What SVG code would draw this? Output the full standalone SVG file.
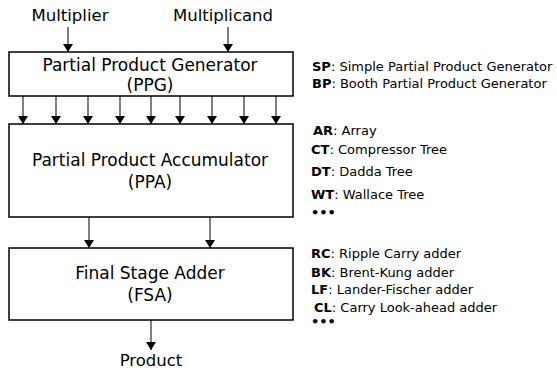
<svg xmlns="http://www.w3.org/2000/svg" width="557" height="372" viewBox="0 0 557 372">
<style>
text{font-family:"DejaVu Sans",sans-serif;fill:#000}
.big{font-size:17px;text-anchor:middle}
.io{font-size:16.5px;text-anchor:middle}
.leg{font-size:13px}
.leg tspan.b{font-weight:bold}
.box{fill:#fff;stroke:#000;stroke-width:1.5}
.c{stroke:#000;stroke-width:1;fill:none;marker-end:url(#ah)}
</style>
<defs>
<marker id="ah" markerWidth="8" markerHeight="10" refX="8" refY="5" orient="auto" markerUnits="userSpaceOnUse">
<path d="M0,0 L8,5 L0,10 Z" fill="#000"/>
</marker>
</defs>
<rect width="557" height="372" fill="#fff"/>
<g id="connectors">
<line class="c" x1="68" y1="27" x2="68" y2="52"/>
<line class="c" x1="228" y1="27" x2="228" y2="52"/>
<line class="c" x1="23" y1="96" x2="23" y2="124"/>
<line class="c" x1="56" y1="96" x2="56" y2="124"/>
<line class="c" x1="88" y1="96" x2="88" y2="124"/>
<line class="c" x1="120" y1="96" x2="120" y2="124"/>
<line class="c" x1="151" y1="96" x2="151" y2="124"/>
<line class="c" x1="180" y1="96" x2="180" y2="124"/>
<line class="c" x1="212" y1="96" x2="212" y2="124"/>
<line class="c" x1="244" y1="96" x2="244" y2="124"/>
<line class="c" x1="276" y1="96" x2="276" y2="124"/>
<line class="c" x1="89" y1="217" x2="89" y2="248"/>
<line class="c" x1="210" y1="217" x2="210" y2="248"/>
<line class="c" x1="151" y1="320" x2="151" y2="350"/>
</g>
<g id="multiplier"><text class="io" x="70" y="21">Multiplier</text></g>
<g id="multiplicand"><text class="io" x="223" y="21">Multiplicand</text></g>
<g id="ppg">
<rect class="box" x="9" y="52" width="284" height="44"/>
<text class="big" x="150" y="71">Partial Product Generator</text>
<text class="big" x="150" y="91">(PPG)</text>
</g>
<g id="ppa">
<rect class="box" x="9" y="124" width="284" height="93"/>
<text class="big" x="150" y="166">Partial Product Accumulator</text>
<text class="big" x="150" y="188">(PPA)</text>
</g>
<g id="fsa">
<rect class="box" x="9" y="248" width="284" height="72"/>
<text class="big" x="150" y="279">Final Stage Adder</text>
<text class="big" x="150" y="301">(FSA)</text>
</g>
<g id="product"><text class="io" x="151" y="366">Product</text></g>
<g id="legend-ppg">
<text class="leg" x="312" y="71"><tspan class="b">SP</tspan>: Simple Partial Product Generator</text>
<text class="leg" x="312" y="88"><tspan class="b">BP</tspan>: Booth Partial Product Generator</text>
</g>
<g id="legend-ppa">
<text class="leg" x="313" y="135"><tspan class="b">AR</tspan>: Array</text>
<text class="leg" x="311" y="154"><tspan class="b">CT</tspan>: Compressor Tree</text>
<text class="leg" x="311" y="176"><tspan class="b">DT</tspan>: Dadda Tree</text>
<text class="leg" x="311" y="199"><tspan class="b">WT</tspan>: Wallace Tree</text>
<text class="leg" x="311" y="217" font-weight="bold">•••</text>
</g>
<g id="legend-fsa">
<text class="leg" x="311" y="258"><tspan class="b">RC</tspan>: Ripple Carry adder</text>
<text class="leg" x="311" y="277"><tspan class="b">BK</tspan>: Brent-Kung adder</text>
<text class="leg" x="311" y="294"><tspan class="b">LF</tspan>: Lander-Fischer adder</text>
<text class="leg" x="314" y="312"><tspan class="b">CL</tspan>: Carry Look-ahead adder</text>
<text class="leg" x="311" y="326" font-weight="bold">•••</text>
</g>
</svg>
